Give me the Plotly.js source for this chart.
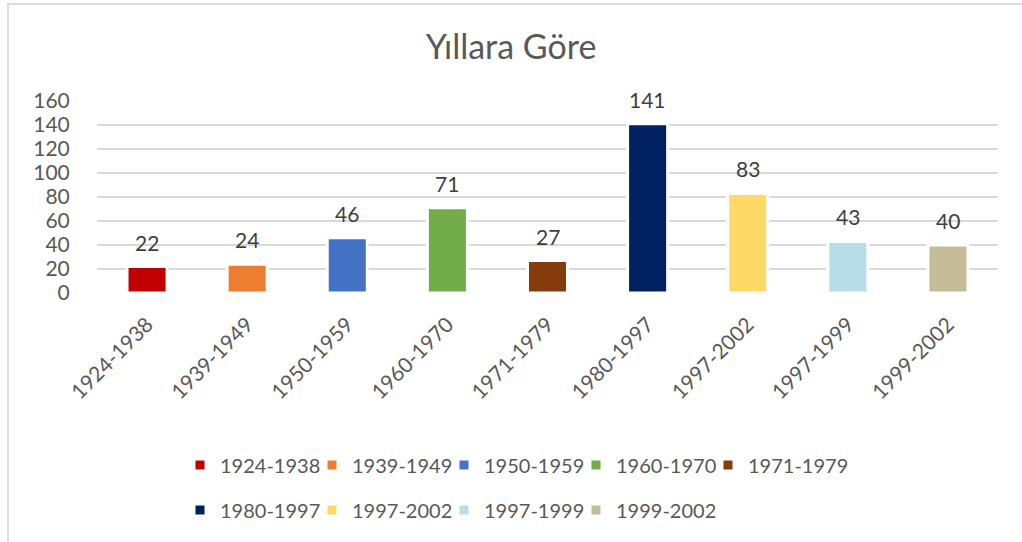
<!DOCTYPE html>
<html>
<head>
<meta charset="utf-8">
<script src="https://cdn.plot.ly/plotly-3.0.1.min.js"></script>
<style>
  html, body { margin: 0; padding: 0; background: #fff; }
  #wrap { position: relative; width: 1022px; height: 542px; }
  #chart { width: 1022px; height: 542px; }
  #frame { position: absolute; left: 7px; top: 3px; right: 0; bottom: 0;
           border-left: 2px solid #dcdcdc; border-top: 2px solid #dcdcdc; pointer-events: none; }
</style>
</head>
<body>
<div id="wrap">
  <div id="chart"></div>
  <div id="frame"></div>
</div>
<script>
const categories = ["1924-1938","1939-1949","1950-1959","1960-1970","1971-1979","1980-1997","1997-2002","1997-1999","1999-2002"];
const values = [22, 24, 46, 71, 27, 141, 83, 43, 40];
const colors = ["#C00000","#ED7D31","#4472C4","#70AD47","#843C0C","#002060","#FFD966","#B7DDE8","#C4BD97"];
const yTicks = [0, 20, 40, 60, 80, 100, 120, 140, 160];

const FONT = "Lato, 'Open Sans', sans-serif";
const textColor = "#595959";

// layout geometry (pixels)
const W = 1022, H = 542;
const M = { l: 97, r: 24, t: 101, b: 249 };
const plotW = W - M.l - M.r, plotH = H - M.t - M.b;
const PER_ROW = 5, LEG_STEP = 132, LEG_LEFT = 180;
const LEG_ROW_Y = [465, 510];

function legendName(i) { return i === 0 ? "legend" : "legend" + (i + 1); }

const traces = categories.map((c, i) => ({
  type: "bar",
  name: c,
  x: [c],
  y: [values[i]],
  width: 0.40,
  marker: { color: colors[i], line: { color: "#ffffff", width: 3 } },
  legend: legendName(i),
  hoverinfo: "x+y"
}));

const annotations = categories.map((c, i) => ({
  x: c, y: values[i], xref: "x", yref: "y",
  text: String(values[i]), showarrow: false,
  yanchor: "bottom", yshift: 10,
  font: { family: FONT, size: 21, color: "#404040" }
}));

const layout = {
  width: W, height: H,
  paper_bgcolor: "#ffffff", plot_bgcolor: "#ffffff",
  margin: M,
  title: { text: "Yıllara Göre", x: 0.5, xanchor: "center", y: 0.913, yanchor: "middle",
           font: { family: FONT, size: 34, color: textColor } },
  barmode: "overlay",
  showlegend: true,
  xaxis: {
    type: "category",
    categoryorder: "array", categoryarray: categories,
    tickangle: -45,
    tickfont: { family: FONT, size: 21, color: textColor },
    ticks: "outside", ticklen: 10, tickcolor: "rgba(0,0,0,0)",
    showgrid: false, zeroline: false, showline: false
  },
  yaxis: {
    range: [0, 160],
    tickmode: "array", tickvals: yTicks, ticktext: yTicks.map(String),
    tickfont: { family: FONT, size: 21, color: textColor },
    ticks: "outside", ticklen: 22, tickcolor: "rgba(0,0,0,0)",
    showgrid: true, gridcolor: "#d9d9d9", gridwidth: 1.5,
    zeroline: false, showline: false
  },
  annotations: annotations
};

categories.forEach((c, i) => {
  const row = Math.floor(i / PER_ROW), col = i % PER_ROW;
  const px = LEG_LEFT + col * LEG_STEP;
  const py = LEG_ROW_Y[row];
  layout[legendName(i)] = {
    orientation: "h",
    xanchor: "left", yanchor: "middle",
    x: (px - M.l) / plotW,
    y: (H - M.b - py) / plotH,
    font: { family: FONT, size: 20, color: textColor },
    bgcolor: "rgba(0,0,0,0)"
  };
});

Plotly.newPlot("chart", traces, layout, { displayModeBar: false, responsive: false });
</script>
</body>
</html>
